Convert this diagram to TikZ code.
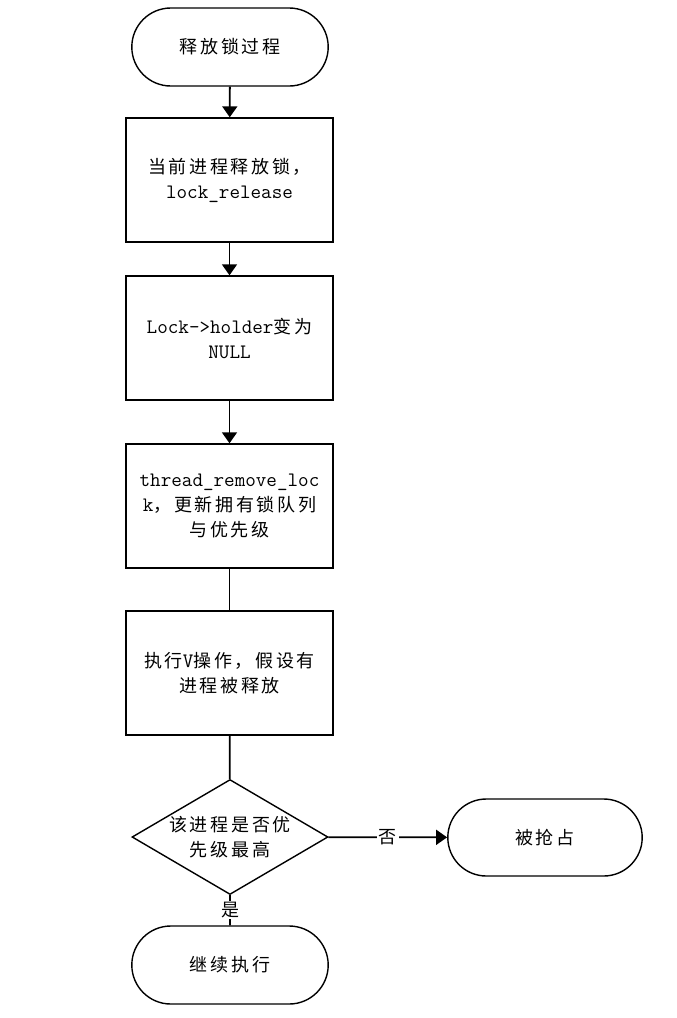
\documentclass[tikz,border=0pt]{standalone}
\usepackage{fontspec}
\setmainfont{Latin Modern Mono}[Scale=1.14]
\newfontfamily\cjk{Noto Sans CJK SC}[LetterSpace=15]
\usetikzlibrary{shapes.geometric,shapes.misc,arrows.meta}
\tikzstyle{arrow} = [line width=1.8pt, -{Triangle[length=11pt,width=15pt]}]
\tikzstyle{link} = [line width=1.8pt]
\tikzstyle{process} = [rectangle, draw, line width=1.4pt, minimum width=207pt, minimum height=124pt, align=center]
\tikzstyle{terminal} = [rounded rectangle, draw, line width=1.4pt, minimum width=204pt, minimum height=78pt, align=center]
\tikzstyle{decision} = [diamond, draw, line width=1.4pt, aspect=1.7, minimum width=196pt, minimum height=115pt, inner sep=-4pt, align=center]

\begin{document}
\begin{tikzpicture}[x=1pt, y=-1pt, font=\fontsize{18}{25}\selectfont]
    \useasboundingbox (0,0) rectangle (677,1018);
    \node[terminal] (start) at (230,47) {\cjk 释放锁过程};
    \node[process] (release) at (229.5,180) {{\cjk 当前进程释放锁，}\\ lock\_release};
    \node[process] (holder) at (229.5,338) {Lock->holder{\cjk 变为}\\NULL};
    \node[process] (remove) at (229.5,506) {thread\_remove\_loc\\k{\cjk ，更新拥有锁队列}\\{\cjk 与优先级}};
    \node[process] (vop) at (229.5,673) {{\cjk 执行}V{\cjk 操作，假设有}\\{\cjk 进程被释放}};
    \node[decision] (prio) at (230,837) {{\cjk 该进程是否优}\\{\cjk 先级最高}};
    \node[terminal, minimum width=202pt, minimum height=77pt] (preempt) at (545,837.5) {\cjk 被抢占};
    \node[terminal] (cont) at (230,965) {\cjk 继续执行};

    \draw[arrow] (start) -- (release);
    \draw[arrow] (release) -- (holder);
    \draw[arrow] (holder) -- (remove);
    \draw[link] (remove) -- (vop);
    \draw[link] (vop) -- (prio);
    \draw[arrow] (prio) -- node[fill=white, inner sep=2pt] {\cjk 否} (preempt);
    \draw[link] (prio) -- node[fill=white, inner sep=1pt] {\cjk 是} (cont);
\end{tikzpicture}
\end{document}
